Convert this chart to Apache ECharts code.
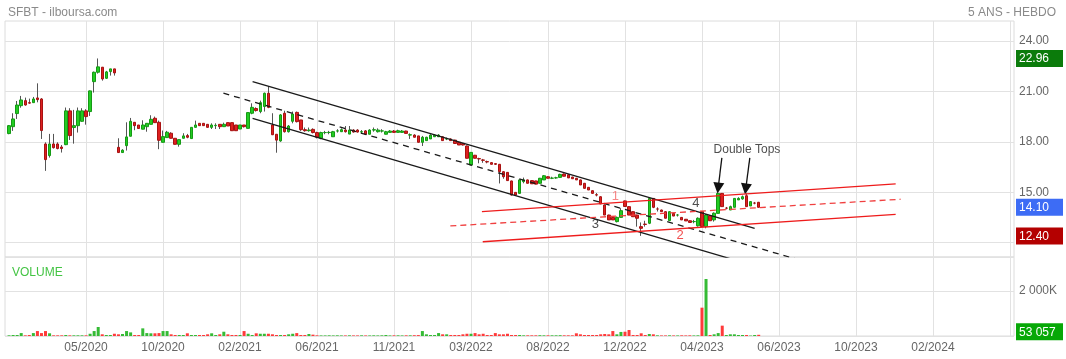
<!DOCTYPE html>
<html><head><meta charset="utf-8">
<script src="https://cdn.jsdelivr.net/npm/echarts@6/dist/echarts.min.js"></script>
<style>html,body{margin:0;padding:0;background:#fff}#c{width:1066px;height:359px}</style>
</head><body><div id="c"></div>
<script>
// ---- data (weekly) ----
const opens = [18.49,18.90,19.68,20.15,20.45,20.33,20.33,20.61,20.55,17.87,17.18,17.87,17.87,17.69,17.83,19.84,18.85,18.96,19.22,19.84,
19.80,21.58,22.14,22.44,21.78,22.18,22.34,17.67,17.36,17.77,18.33,19.16,19.00,18.75,18.90,19.04,19.40,19.16,17.97,18.25,
18.51,18.21,17.85,18.21,18.37,18.19,18.86,19.10,19.10,19.04,18.86,18.96,19.04,18.90,19.14,19.14,19.00,18.76,19.00,18.80,
19.70,19.98,19.80,20.10,20.89,19.00,18.45,18.05,19.70,18.60,19.22,19.75,19.30,18.72,18.66,18.74,18.55,18.21,18.55,18.55,
18.30,18.64,18.60,18.70,18.46,18.70,18.70,18.58,18.65,18.45,18.70,18.60,18.64,18.45,18.56,18.64,18.56,18.56,18.64,18.40,
18.40,18.35,17.97,18.07,18.17,18.30,18.30,18.30,18.17,18.17,18.10,17.97,17.90,17.75,16.62,17.20,17.00,16.92,16.82,16.76,
16.70,16.66,16.22,16.18,15.67,14.99,14.93,15.63,15.73,15.69,15.67,15.53,15.73,15.92,15.83,15.85,15.88,16.08,16.04,15.90,
15.83,15.73,15.53,15.29,15.09,14.85,14.73,14.24,13.64,13.50,13.25,13.50,14.48,14.14,13.84,13.64,12.95,13.10,13.15,14.63,
14.00,13.94,13.84,13.31,13.74,13.64,13.50,13.39,13.30,13.25,13.00,13.84,12.95,13.60,13.35,13.74,14.93,14.05,13.94,14.10,
14.54,14.60,14.79,14.18,14.35,14.40];
const highs = [19.00,19.70,20.43,20.73,20.63,20.57,20.67,21.48,20.60,17.97,18.47,18.47,17.97,17.81,20.04,20.00,19.90,20.04,20.00,19.94,
21.05,22.18,22.96,22.44,22.22,22.34,22.34,18.21,17.56,19.16,19.42,19.16,19.00,19.28,19.10,19.58,19.50,19.26,18.67,18.65,
18.57,18.21,18.13,18.51,18.47,18.86,19.26,19.10,19.10,19.04,19.10,19.10,19.04,19.14,19.14,19.14,19.00,19.00,19.00,19.74,
20.29,20.05,20.45,20.93,21.32,19.70,18.45,19.65,19.85,19.00,19.80,19.80,19.30,18.85,18.85,18.80,18.60,18.60,18.65,18.65,
18.65,18.75,18.80,18.94,18.94,18.75,18.75,18.70,18.70,18.75,18.85,18.80,18.75,18.65,18.70,18.70,18.72,18.70,18.66,18.50,
18.45,18.35,18.35,18.30,18.45,18.46,18.46,18.32,18.25,18.20,18.12,17.98,17.92,17.78,17.37,17.22,17.05,16.98,16.88,16.78,
16.72,16.68,16.24,16.20,15.68,15.00,15.75,15.87,15.75,15.70,15.68,15.85,16.02,15.95,15.92,15.92,16.10,16.12,16.06,15.92,
15.85,15.75,15.55,15.30,15.10,14.95,14.75,14.25,13.66,13.52,13.55,14.05,14.50,14.16,13.86,13.66,13.20,13.30,14.65,14.65,
14.10,13.96,13.86,13.86,13.76,13.70,13.52,13.40,13.32,13.35,13.50,13.86,13.70,13.62,13.80,14.93,14.95,14.12,14.20,14.65,
14.70,14.80,14.93,14.46,14.42,14.42];
const lows = [18.45,18.65,19.36,20.03,20.15,20.27,20.33,20.35,18.17,16.27,17.06,17.60,17.55,17.36,17.80,18.11,17.89,18.55,19.20,19.02,
19.54,20.93,22.06,21.64,21.74,21.94,21.94,17.36,17.36,17.48,18.33,18.69,18.79,18.75,18.60,19.04,19.14,17.56,17.97,18.25,
18.21,17.85,17.71,18.21,18.21,18.19,18.86,18.96,18.94,18.86,18.76,18.76,18.76,18.90,18.94,18.66,18.66,18.76,18.85,18.80,
19.64,19.80,19.70,19.80,20.00,18.40,17.35,18.00,18.55,18.55,19.10,19.15,18.65,18.60,18.60,18.50,18.20,18.15,18.45,18.45,
18.30,18.55,18.60,18.55,18.46,18.55,18.55,18.50,18.40,18.45,18.60,18.55,18.55,18.45,18.56,18.56,18.56,18.56,18.50,18.17,
18.27,17.97,17.75,18.07,18.17,18.30,18.30,18.07,18.10,18.07,17.90,17.81,17.78,17.02,16.60,17.02,16.72,16.75,16.72,16.66,
16.62,15.52,15.80,15.69,14.80,14.83,14.93,15.53,15.53,15.50,15.48,15.53,15.73,15.83,15.78,15.80,15.88,15.95,15.85,15.80,
15.73,15.43,15.23,15.13,14.93,14.75,14.30,13.64,13.35,13.35,13.20,13.50,14.15,13.64,13.54,12.95,12.40,12.95,13.10,14.05,
13.85,13.84,13.45,13.30,13.58,13.55,13.35,13.29,13.20,13.15,12.95,12.95,12.85,13.30,13.25,13.74,14.14,13.98,13.94,14.10,
14.54,14.55,14.14,14.18,14.28,14.10];
const closes = [18.96,19.36,20.19,20.49,20.19,20.30,20.55,20.51,18.67,16.94,17.87,17.65,17.60,17.60,19.84,18.37,18.96,19.84,19.84,19.50,
21.03,22.14,22.46,21.74,22.16,22.34,22.10,17.36,17.50,18.29,19.22,18.96,18.79,19.00,19.10,19.34,19.14,18.09,18.31,18.57,
18.21,17.85,18.13,18.35,18.27,18.86,19.00,18.96,18.96,18.86,19.00,18.98,18.90,19.04,18.94,18.66,18.66,19.00,18.90,19.74,
20.05,19.86,20.33,20.89,20.05,18.42,18.10,19.60,18.60,18.94,19.65,19.20,18.72,18.66,18.70,18.55,18.27,18.55,18.55,18.56,
18.60,18.65,18.72,18.60,18.70,18.58,18.58,18.60,18.45,18.70,18.72,18.70,18.65,18.60,18.64,18.56,18.66,18.64,18.50,18.42,
18.27,17.97,18.27,18.27,18.40,18.40,18.40,18.07,18.18,18.07,17.90,17.81,17.81,17.02,17.37,17.02,16.98,16.90,16.80,16.66,
16.66,16.22,15.92,15.69,14.83,14.83,15.73,15.73,15.53,15.50,15.48,15.83,15.98,15.83,15.84,15.86,16.06,15.95,15.85,15.80,
15.73,15.43,15.23,15.13,14.93,14.83,14.30,13.64,13.35,13.35,13.50,13.90,14.15,13.64,13.54,13.45,12.85,13.08,14.63,14.10,
14.00,13.84,13.45,13.84,13.58,13.64,13.35,13.29,13.20,13.25,13.45,12.95,13.64,13.30,13.75,14.93,14.14,14.05,14.14,14.63,
14.63,14.73,14.14,14.44,14.35,14.10];
const volumesK = [30,45,45,130,30,45,130,220,130,220,120,30,30,30,45,30,30,30,30,30,
100,220,400,75,45,45,100,75,90,220,160,45,45,340,130,120,120,130,220,220,
75,45,45,45,120,45,45,45,45,75,120,45,75,190,75,45,45,45,220,100,
45,120,100,100,100,75,45,45,45,75,100,130,45,45,90,60,30,25,25,30,
25,30,25,25,30,25,25,30,25,25,30,25,30,45,25,30,30,25,30,30,
35,40,220,75,45,45,130,75,75,45,45,45,75,100,100,130,75,100,45,45,
130,75,75,100,45,45,45,30,30,30,30,35,30,30,30,30,35,30,30,30,
120,75,45,45,45,45,75,90,75,220,75,180,190,266,45,45,120,45,90,75,
30,25,25,30,25,25,30,25,30,25,30,1259,2533,45,75,130,460,45,75,75,
45,45,45,20,45,53.057];

const xTickLabels = ['05/2020','10/2020','02/2021','06/2021','11/2021','03/2022','08/2022','12/2022','04/2023','06/2023','10/2023','02/2024'];
const priceGridValues = [12, 15, 18, 21, 24];
const priceLabelValues = [15, 18, 21, 24];
const volumeTicksK = [2000];

// trend lines, in (week, price) units
const blackChannelUpper = [[61.1, 21.58], [185.0, 12.85]];
const blackChannelLower = [[61.1, 19.40], [180.0, 10.97]];
const blackChannelMid = [[53.9, 20.89], [196.0, 10.97]];
const redChannelUpper = [[117.7, 13.84], [219.8, 15.49]];
const redChannelLower = [[117.9, 12.05], [219.8, 13.68]];
const redChannelMid = [[109.9, 12.99], [221.0, 14.58]];
const pointLabels = [
  {name: '1', value: [150.6, 14.77], color: '#f46a6a'},
  {name: '2', value: [166.6, 12.45], color: '#ee2222'},
  {name: '3', value: [145.7, 13.11], color: '#222222'},
  {name: '4', value: [170.5, 14.36], color: '#222222'}
];
const doubleTopText = {name: 'Double Tops', value: [183.1, 17.51]};
const doubleTopArrows = [
  [[176.9, 17.04], [176.0, 15.25]],
  [[183.8, 17.04], [182.8, 15.19]]
];

// ---- layout constants ----
const weekCount = 250, firstDataWeek = 1, firstTickWeek = 20, weeksPerTick = 19;
const isTick = i => i >= firstTickWeek && (i - firstTickWeek) % weeksPerTick === 0;
const categories = Array.from({length: weekCount}, (_, i) => 'S' + i);
const N = opens.length;
const candleRows = opens.map((o, i) => [firstDataWeek + i, o, closes[i], lows[i], highs[i]]);
const bodyRows = opens.map((o, i) => [firstDataWeek + i, o, closes[i], Math.min(o, closes[i]), Math.max(o, closes[i])]);
const volRows = volumesK.map((v, i) => [firstDataWeek + i, v]);
const maxHigh = Math.max(...highs), minLow = Math.min(...lows), lastClose = closes[N - 1], lastVol = volumesK[N - 1];
const fmtVol = v => String(Math.round(v * 1000)).replace(/\B(?=(\d{3})+(?!\d))/g, ' ');

const FONT = '"Liberation Sans", Arial, sans-serif';
const gridLine = {show: true, lineStyle: {color: '#e2e2e2', width: 1}};
const tag = (bg) => ({backgroundColor: bg, color: '#fff', padding: [3, 6, 2, 3], width: 38, fontSize: 12, fontFamily: FONT});

const lineSeries = (data, color, type, width) => ({
  type: 'line', xAxisIndex: 2, yAxisIndex: 0, data: data, symbol: 'none', silent: true, clip: true,
  lineStyle: {color: color, type: type, width: width}, z: 5
});

const chart = echarts.init(document.getElementById('c'));
chart.setOption({
  animation: false,
  textStyle: {fontFamily: FONT},
  title: [
    {text: 'SFBT - ilboursa.com', left: 3, top: 2, textStyle: {color: '#8a8a8a', fontSize: 12, fontWeight: 'normal', fontFamily: FONT}},
    {text: '5 ANS - HEBDO', right: 5, top: 2, textStyle: {color: '#8a8a8a', fontSize: 12, fontWeight: 'normal', fontFamily: FONT}},
    {text: 'VOLUME', left: 7, top: 262, textStyle: {color: '#44c444', fontSize: 12, fontWeight: 'normal', fontFamily: FONT}}
  ],
  grid: [
    {left: 5, right: 49, top: 21, height: 236, show: true, borderColor: '#dcdcdc', borderWidth: 1},
    {left: 5, right: 49, top: 257, height: 79, show: true, borderColor: '#dcdcdc', borderWidth: 1}
  ],
  xAxis: [
    {type: 'category', gridIndex: 0, data: categories, boundaryGap: false,
     axisLine: {show: false}, axisTick: {show: false}, axisLabel: {show: false},
     splitLine: Object.assign({interval: (i) => isTick(i)}, gridLine)},
    {type: 'category', gridIndex: 1, data: categories, boundaryGap: false,
     axisLine: {show: false}, axisTick: {show: false},
     axisLabel: {interval: (i) => isTick(i), formatter: (v, i) => xTickLabels[(i - firstTickWeek) / weeksPerTick] || '',
       color: '#666', fontSize: 12, margin: 6, fontFamily: FONT},
     splitLine: Object.assign({interval: (i) => isTick(i)}, gridLine)},
    {type: 'value', gridIndex: 0, min: 0, max: weekCount - 1, show: false}
  ],
  yAxis: [
    {type: 'value', gridIndex: 0, position: 'right', min: 11.143, max: 25.19, scale: true,
     axisLine: {show: false}, axisTick: {show: false, customValues: priceGridValues},
     axisLabel: {customValues: priceLabelValues, formatter: v => v.toFixed(2), color: '#666', fontSize: 12, margin: 5, padding: [0, 0, 6, 0], fontFamily: FONT},
     splitLine: gridLine},
    {type: 'value', gridIndex: 0, position: 'right', min: 11.143, max: 25.19, scale: true,
     axisLine: {show: false}, axisTick: {show: false}, splitLine: {show: false},
     axisLabel: {customValues: [maxHigh, lastClose, minLow], margin: 2,
       formatter: v => {
         const k = Math.abs(v - maxHigh) < 1e-6 ? 'hi' : (Math.abs(v - lastClose) < 1e-6 ? 'last' : 'lo');
         return '{' + k + '|' + v.toFixed(2) + '}';
       },
       rich: {hi: tag('#0b7b0b'), last: tag('#3d6cf5'), lo: tag('#b40000')}}},
    {type: 'value', gridIndex: 1, position: 'right', min: 0, max: 3511, interval: 2000,
     axisLine: {show: false}, axisTick: {show: false},
     axisLabel: {customValues: volumeTicksK, formatter: v => fmtVol(v).replace(/ 000$/, '') + 'K', color: '#666', fontSize: 12, margin: 5, padding: [0, 0, 6, 0], fontFamily: FONT},
     splitLine: gridLine},
    {type: 'value', gridIndex: 1, position: 'right', min: 0, max: 3511,
     axisLine: {show: false}, axisTick: {show: false}, splitLine: {show: false},
     axisLabel: {customValues: [lastVol], margin: 2, padding: [0, 0, 6, 0], formatter: v => '{v|' + fmtVol(v) + '}', rich: {v: tag('#07a807')}}}
  ],
  series: [
    {type: 'candlestick', name: 'wicks', xAxisIndex: 0, yAxisIndex: 0, data: candleRows,
     encode: {x: 0, y: [1, 2, 3, 4]}, barWidth: 1, silent: true,
     itemStyle: {color: '#555', color0: '#555', borderColor: '#555', borderColor0: '#555', borderWidth: 1}},
    {type: 'candlestick', name: 'bodies', xAxisIndex: 0, yAxisIndex: 0, data: bodyRows,
     encode: {x: 0, y: [1, 2, 3, 4]}, barWidth: 3, silent: true,
     itemStyle: {color: '#22cc22', color0: '#dd2020', borderColor: '#159a15', borderColor0: '#a81212', borderWidth: 1}},
    {type: 'bar', name: 'volume', xAxisIndex: 1, yAxisIndex: 2, data: volRows, barWidth: 3, silent: true,
     itemStyle: {color: p => closes[p.dataIndex] >= opens[p.dataIndex] ? '#35bb35' : '#ff3a3a'}},
    lineSeries(blackChannelUpper, '#1a1a1a', 'solid', 1.3),
    lineSeries(blackChannelLower, '#1a1a1a', 'solid', 1.3),
    lineSeries(blackChannelMid, '#1a1a1a', [6, 5], 1.3),
    lineSeries(redChannelUpper, '#ee1c1c', 'solid', 1.3),
    lineSeries(redChannelLower, '#ee1c1c', 'solid', 1.3),
    lineSeries(redChannelMid, '#f04040', [6, 4], 1.3),
    {type: 'scatter', xAxisIndex: 2, yAxisIndex: 0, symbolSize: 0, silent: true, z: 10,
     data: pointLabels.map(p => ({name: p.name, value: p.value, label: {color: p.color, fontSize: 13}})).concat([
       {name: doubleTopText.name, value: doubleTopText.value, label: {color: '#222', fontSize: 12}}]),
     label: {show: true, position: 'inside', formatter: '{b}', fontFamily: FONT},
     markLine: {silent: true, symbol: ['none', 'triangle'], symbolSize: 11, label: {show: false},
       lineStyle: {color: '#111', width: 1.3, type: 'solid'},
       itemStyle: {color: '#111'},
       data: doubleTopArrows.map(a => [{coord: a[0]}, {coord: a[1]}])}}
  ]
});
</script>
</body></html>
